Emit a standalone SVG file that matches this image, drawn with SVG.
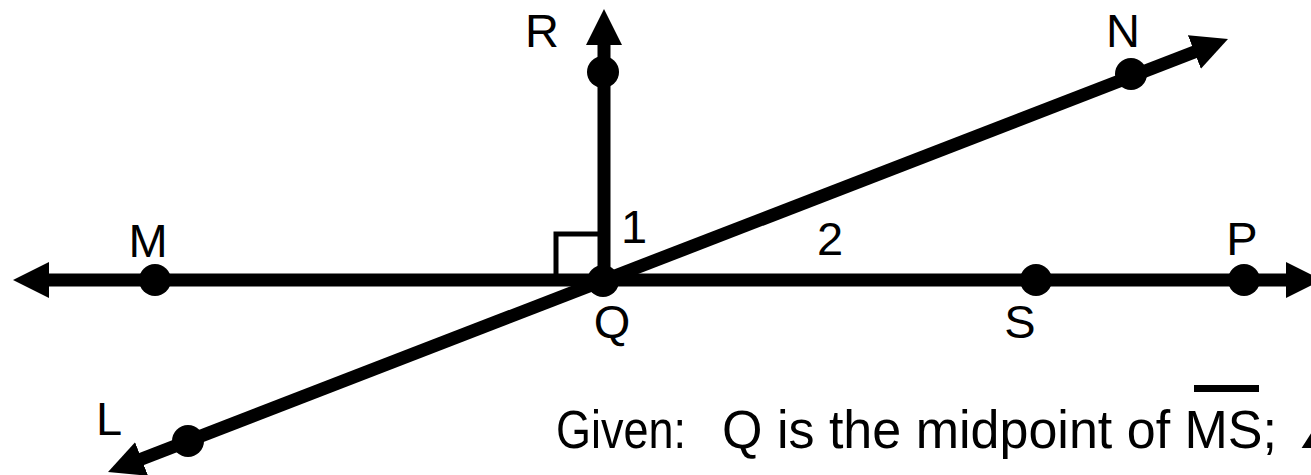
<svg xmlns="http://www.w3.org/2000/svg" width="1311" height="475" viewBox="0 0 1311 475">
<style>
.ln{stroke:#000;stroke-width:13;fill:none}
.dot{fill:#000}
.lbl{font-family:"Liberation Sans",Arial,sans-serif;font-size:47px;fill:#000;text-anchor:middle}
.given{font-family:"Liberation Sans",Arial,sans-serif;font-size:54px;fill:#000}
</style>
<defs>
<marker id="ah" viewBox="0 0 36 36" refX="18" refY="18" markerWidth="36" markerHeight="36" markerUnits="userSpaceOnUse" orient="auto-start-reverse">
<path d="M0,0 L36,18 L0,36 Z" fill="#000"/>
</marker>
</defs>
<rect width="1311" height="475" fill="#fff"/>
<g id="connectors">
<line class="ln" x1="31" y1="280" x2="1304" y2="280" marker-start="url(#ah)" marker-end="url(#ah)"/>
<line class="ln" x1="604" y1="281" x2="604" y2="27" marker-end="url(#ah)"/>
<line class="ln" x1="124.8" y1="465.5" x2="1211.2" y2="45.5" marker-start="url(#ah)" marker-end="url(#ah)"/>
<path d="M556,275 V234 H600" stroke="#000" stroke-width="5" fill="none"/>
</g>
<g id="node-M"><circle class="dot" cx="155" cy="280" r="16"/><text class="lbl" x="148" y="257">M</text></g>
<g id="node-Q"><circle class="dot" cx="603" cy="281" r="16"/><text class="lbl" x="612" y="338">Q</text></g>
<g id="node-S"><circle class="dot" cx="1036" cy="280" r="16"/><text class="lbl" x="1020" y="338">S</text></g>
<g id="node-P"><circle class="dot" cx="1244" cy="280" r="16"/><text class="lbl" x="1242" y="255">P</text></g>
<g id="node-R"><circle class="dot" cx="603" cy="72" r="16"/><text class="lbl" x="542" y="47">R</text></g>
<g id="node-N"><circle class="dot" cx="1131" cy="74" r="16"/><text class="lbl" x="1123" y="47">N</text></g>
<g id="node-L"><circle class="dot" cx="188" cy="441" r="16"/><text class="lbl" x="109" y="435">L</text></g>
<g id="angle-labels"><text class="lbl" x="634" y="243">1</text><text class="lbl" x="830" y="255">2</text></g>
<g id="given">
<rect x="1194" y="385" width="65" height="7" fill="#000"/>
<text class="given" y="448"><tspan x="556" textLength="130" lengthAdjust="spacingAndGlyphs">Given:</tspan><tspan x="722" textLength="555" lengthAdjust="spacingAndGlyphs">Q is the midpoint of MS;</tspan><tspan x="1297">∠</tspan></text>
</g>
</svg>
